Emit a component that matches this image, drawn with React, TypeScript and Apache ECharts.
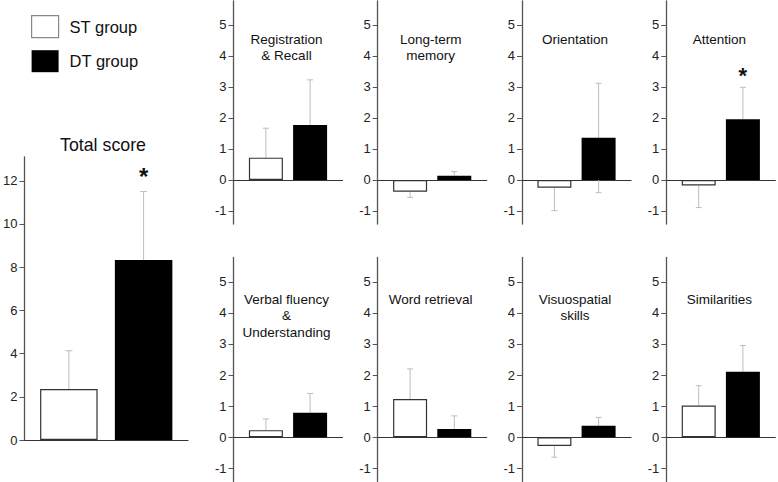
import React, { useEffect, useRef } from "react";
import * as echarts from "echarts";

// ---- data ----
const panelTitles = [
  "Total score",
  "Registration\n& Recall",
  "Long-term\nmemory",
  "Orientation",
  "Attention",
  "Verbal fluency\n&\nUnderstanding",
  "Word retrieval",
  "Visuospatial\nskills",
  "Similarities",
];
const stMeans = [2.36, 0.72, -0.38, -0.25, -0.18, 0.23, 1.23, -0.28, 1.02];
const stErrEnds = [4.13, 1.67, -0.56, -0.99, -0.89, 0.59, 2.2, -0.64, 1.66];
const dtMeans = [8.33, 1.77, 0.14, 1.36, 1.96, 0.79, 0.27, 0.37, 2.11];
const dtErrEnds = [11.5, 3.23, 0.27, 3.12, 2.99, 1.41, 0.69, 0.64, 2.95];
const dtLowerErrEnds: (number | null)[] = [null, null, null, -0.41, null, null, null, null, null];
const significant = [true, false, false, false, true, false, false, false, false];
const totalTicks = [0, 2, 4, 6, 8, 10, 12];
const smallTicks = [-1, 0, 1, 2, 3, 4, 5];
const seriesNames = ["ST group", "DT group"];

// ---- layout ----
const FONT = "'Liberation Sans', Arial, sans-serif";
const smallAxisX = [233.5, 377.7, 522, 666.3];
const rowTop = [0.8, 257.5];
const rowHeight = [223.2, 224];
const SMALL_W = 109;

function buildOption() {
  const grids: any[] = [];
  const xAxes: any[] = [];
  const yAxes: any[] = [];
  const series: any[] = [];
  const titles: any[] = [];

  panelTitles.forEach((t, i) => {
    const isTotal = i === 0;
    let left: number, top: number, width: number, height: number;
    if (isTotal) {
      left = 22.5; top = 157; width = 165.5; height = 283;
    } else {
      const row = i <= 4 ? 0 : 1;
      const col = (i - 1) % 4;
      left = smallAxisX[col]; top = rowTop[row]; width = SMALL_W; height = rowHeight[row];
    }
    grids.push({ left, top, width, height });
    const barWidth = isTotal ? 57.5 : 34;
    const gapRatio = 0.3;
    const offset = (barWidth * (1 + gapRatio)) / 2;

    xAxes.push({
      gridIndex: i,
      type: "category",
      data: [t],
      axisLabel: { show: false },
      axisTick: { show: false },
      axisLine: { onZero: true, lineStyle: { color: "#333", width: 1.2 } },
    });
    const ticks = isTotal ? totalTicks : smallTicks;
    yAxes.push({
      gridIndex: i,
      type: "value",
      min: isTotal ? 0 : -1.42,
      max: isTotal ? 13.1 : 5.78,
      splitLine: { show: false },
      axisLine: { show: true, lineStyle: { color: "#555", width: 1.3 } },
      axisTick: { show: true, length: 5, customValues: ticks, lineStyle: { color: "#555" } },
      axisLabel: {
        customValues: ticks,
        margin: 7,
        color: "#222",
        fontSize: 13,
        fontFamily: FONT,
      },
    });

    const means = [stMeans[i], dtMeans[i]];
    const ends = [stErrEnds[i], dtErrEnds[i]];
    const lows = [null, dtLowerErrEnds[i]];

    // error bars (behind bars)
    [0, 1].forEach((k) => {
      series.push({
        type: "custom",
        xAxisIndex: i,
        yAxisIndex: i,
        z: 1,
        silent: true,
        data: [[0, means[k]]],
        renderItem: (params: any, api: any) => {
          const sign = k === 0 ? -1 : 1;
          const p0 = api.coord([0, means[k]]);
          const x = p0[0] + sign * offset;
          const yEnd = api.coord([0, ends[k]])[1];
          const cap = isTotal ? 3.5 : 3;
          const style = { stroke: "#bdbdbd", lineWidth: 1 };
          const children: any[] = [
            { type: "line", shape: { x1: x, y1: p0[1], x2: x, y2: yEnd }, style },
            { type: "line", shape: { x1: x - cap, y1: yEnd, x2: x + cap, y2: yEnd }, style },
          ];
          const low = lows[k];
          if (low !== null && low !== undefined) {
            const yLow = api.coord([0, low])[1];
            children.push({ type: "line", shape: { x1: x, y1: p0[1], x2: x, y2: yLow }, style });
            children.push({ type: "line", shape: { x1: x - cap, y1: yLow, x2: x + cap, y2: yLow }, style });
          }
          if (k === 1 && significant[i]) {
            children.push({
              type: "text",
              z2: 10,
              style: {
                text: "*",
                x,
                y: yEnd - (isTotal ? 15 : 12),
                align: "center",
                verticalAlign: "middle",
                fontSize: isTotal ? 24 : 22,
                fontWeight: "bold",
                fontFamily: FONT,
                fill: "#111",
              },
            });
          }
          return { type: "group", children };
        },
      });
    });

    // bars
    [0, 1].forEach((k) => {
      series.push({
        type: "bar",
        name: seriesNames[k],
        xAxisIndex: i,
        yAxisIndex: i,
        z: 3,
        barWidth,
        barGap: "30%",
        data: [means[k]],
        itemStyle:
          k === 0
            ? { color: "#ffffff", borderColor: "#333", borderWidth: 1.2 }
            : { color: "#000000", borderColor: "#000", borderWidth: 0 },
      });
    });

    // titles
    if (isTotal) {
      titles.push({
        text: t,
        left: 103,
        top: 136,
        textAlign: "center",
        padding: 0,
        textStyle: { fontSize: 17.8, fontWeight: "normal", color: "#111", fontFamily: FONT },
      });
    } else {
      const row = i <= 4 ? 0 : 1;
      titles.push({
        text: t,
        left: left + 53,
        top: row === 0 ? 31 : 291,
        textAlign: "center",
        padding: 0,
        textStyle: {
          fontSize: 13.5,
          lineHeight: 16.5,
          fontWeight: "normal",
          color: "#111",
          fontFamily: FONT,
          align: "center",
        },
      });
    }
  });

  return {
    animation: false,
    backgroundColor: "#ffffff",
    textStyle: { fontFamily: FONT },
    title: titles,
    legend: {
      left: 31,
      top: 15,
      orient: "vertical",
      padding: 0,
      itemWidth: 27,
      itemHeight: 22,
      itemGap: 12,
      icon: "rect",
      selectedMode: false,
      textStyle: { fontSize: 16.5, color: "#111", fontFamily: FONT, padding: [0, 0, 0, 6] },
      data: [
        { name: seriesNames[0], itemStyle: { color: "#fff", borderColor: "#888", borderWidth: 1.2 } },
        { name: seriesNames[1], itemStyle: { color: "#000", borderColor: "#000", borderWidth: 0 } },
      ],
    },
    grid: grids,
    xAxis: xAxes,
    yAxis: yAxes,
    series,
  };
}

export default function App() {
  const ref = useRef<HTMLDivElement>(null);
  useEffect(() => {
    document.body.style.margin = "0";
    if (!ref.current) return;
    const chart = echarts.init(ref.current, undefined, { renderer: "svg" });
    chart.setOption(buildOption() as any);
    return () => chart.dispose();
  }, []);
  return <div ref={ref} style={{ width: 778, height: 482 }} />;
}
